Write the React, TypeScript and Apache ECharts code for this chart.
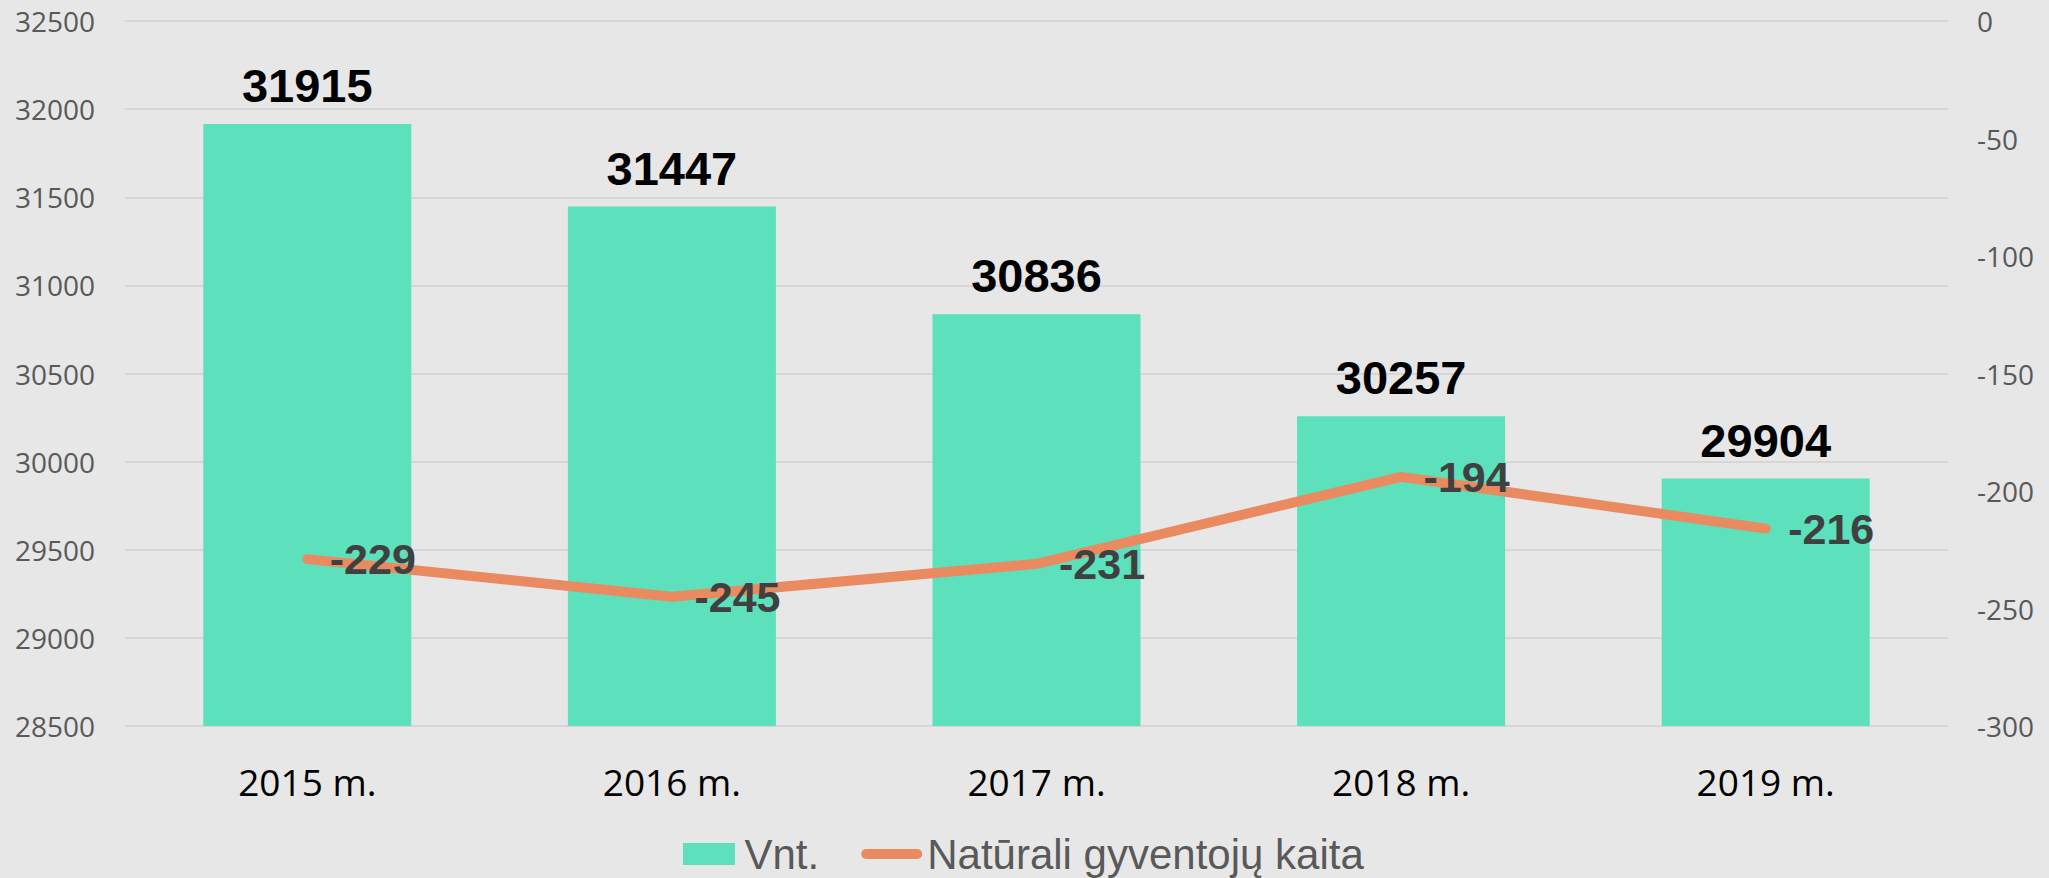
import React, { useEffect, useRef } from "react";
import * as echarts from "echarts";

const categories = ["2015 m.", "2016 m.", "2017 m.", "2018 m.", "2019 m."];
const vntValues = [31915, 31447, 30836, 30257, 29904];
const naturalChange = [-229, -245, -231, -194, -216];
const leftTicks = { min: 28500, max: 32500, interval: 500 };
const rightTicks = { min: -300, max: 0, interval: 50 };
const seriesNames = ["Vnt.", "Natūrali gyventojų kaita"];

export default function App() {
  const ref = useRef<HTMLDivElement>(null);
  useEffect(() => {
    const chart = echarts.init(ref.current!, null, { renderer: "svg" });
    const tickFont = {
      fontFamily: "Open Sans",
      fontSize: 28,
      color: "#595959",
      formatter: (v: number) => String(v),
    };
    chart.setOption({
      animation: false,
      backgroundColor: "#E7E7E7",
      grid: { left: 125, right: 101, top: 21, bottom: 152 },
      legend: {
        left: 683,
        top: 833,
        padding: 0,
        itemGap: 42,
        itemWidth: 61,
        itemHeight: 22,
        textStyle: { fontFamily: "Liberation Sans", fontSize: 42, color: "#595959" },
        data: [
          { name: seriesNames[0], icon: "path://M0,0 L52,0 L52,22 L0,22 Z" },
          {
            name: seriesNames[1],
            icon: "path://M5,0 L56,0 A5,5 0 0 1 56,10 L5,10 A5,5 0 0 1 5,0 Z",
          },
        ],
      },
      xAxis: {
        type: "category",
        data: categories,
        axisLine: { show: false },
        axisTick: { show: false },
        axisLabel: { fontFamily: "Open Sans", fontSize: 37, color: "#000000", margin: 37 },
      },
      yAxis: [
        {
          type: "value",
          ...leftTicks,
          axisLabel: { ...tickFont, margin: 30 },
          axisLine: { show: false },
          axisTick: { show: false },
          splitLine: { lineStyle: { color: "#D6D6D6", width: 2 } },
        },
        {
          type: "value",
          ...rightTicks,
          axisLabel: { ...tickFont, margin: 29 },
          axisLine: { show: false },
          axisTick: { show: false },
          splitLine: { show: false },
        },
      ],
      series: [
        {
          name: seriesNames[0],
          type: "bar",
          data: vntValues,
          barWidth: 208,
          itemStyle: { color: "#5CE1BC" },
          label: {
            show: true,
            position: "top",
            distance: 15,
            fontFamily: "Liberation Sans",
            fontWeight: "bold",
            fontSize: 47,
            color: "#000000",
          },
        },
        {
          name: seriesNames[1],
          type: "line",
          yAxisIndex: 1,
          data: naturalChange,
          symbol: "circle",
          symbolSize: 1,
          showSymbol: true,
          lineStyle: { color: "#EA8A60", width: 10, cap: "round" },
          itemStyle: { color: "#EA8A60" },
          label: {
            show: true,
            position: "right",
            distance: 22,
            fontFamily: "Liberation Sans",
            fontWeight: "bold",
            fontSize: 43,
            color: "#404040",
          },
        },
      ],
    });
    return () => chart.dispose();
  }, []);
  return (
    <div
      ref={ref}
      style={{ position: "absolute", left: 0, top: 0, width: 2049, height: 878 }}
    />
  );
}
